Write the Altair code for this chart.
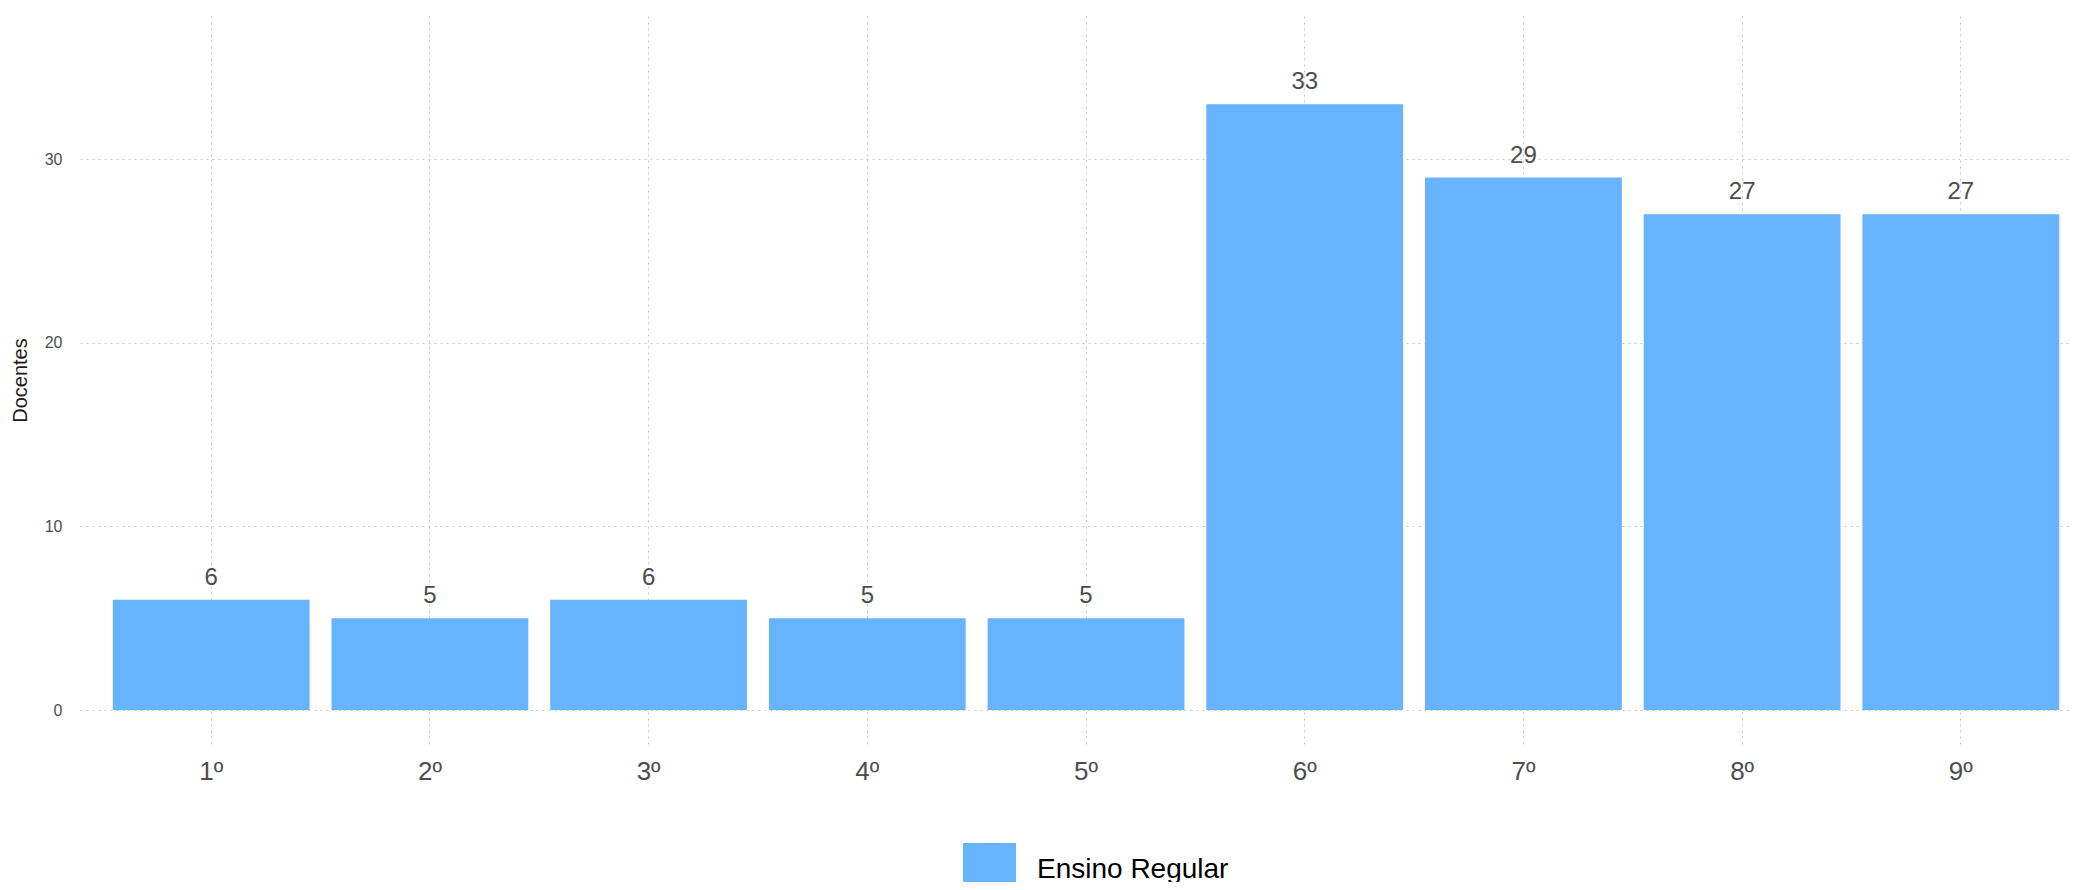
import altair as alt
import pandas as pd

anos = ["1º", "2º", "3º", "4º", "5º", "6º", "7º", "8º", "9º"]
docentes = [6, 5, 6, 5, 5, 33, 29, 27, 27]
serie = "Ensino Regular"
y_ticks = [0, 10, 20, 30]

df = pd.DataFrame({"ano": anos, "docentes": docentes, "tipo": [serie] * len(anos)})

FONT = "Liberation Sans"
GREY = "#4d4d4d"

x_enc = alt.X(
    "ano:N",
    sort=anos,
    scale=alt.Scale(paddingInner=0.1, paddingOuter=0.1042, align=0.72, round=False),
    axis=alt.Axis(
        title=None, ticks=False, domain=False, grid=True,
        gridColor="#c8c8c8", gridDash=[2, 4], gridWidth=1,
        labelFont=FONT, labelFontSize=26, labelColor=GREY, labelPadding=14,
        labelAngle=0,
    ),
)
y_scale = alt.Scale(domain=[-1.85, 37.8], nice=False, zero=False)

bars = alt.Chart(df).mark_bar(size=196.8).encode(
    x=x_enc,
    y=alt.Y(
        "docentes:Q",
        scale=y_scale,
        axis=alt.Axis(
            title="Docentes", values=y_ticks, ticks=False, domain=False, grid=True,
            gridColor="#c8c8c8", gridDash=[2, 4], gridWidth=1,
            labelFont=FONT, labelFontSize=16, labelColor=GREY, labelPadding=18,
            titleFont=FONT, titleFontSize=20, titleFontWeight="normal", titleColor="#1a1a1a",
            titleAngle=-90, titleX=-60, titleY=364, titleBaseline="middle", titleAlign="center",
        ),
    ),
    y2=alt.datum(0),
    color=alt.Color(
        "tipo:N",
        scale=alt.Scale(domain=[serie], range=["#66B3FF"]),
        legend=alt.Legend(
            title=None, orient="none", legendX=883, legendY=827, padding=0,
            symbolType="square", symbolSize=2809, symbolStrokeWidth=0, symbolOpacity=1,
            labelFont=FONT, labelFontSize=28, labelColor="#000000", labelOffset=21,
            labelLimit=400,
        ),
    ),
)

labels = alt.Chart(df).mark_text(
    font=FONT, fontSize=24, color=GREY, baseline="alphabetic", align="center", dy=-15,
).encode(
    x=alt.X("ano:N", sort=anos),
    y=alt.Y("docentes:Q", scale=y_scale),
    text=alt.Text("docentes:Q"),
)

chart = (
    alt.layer(bars, labels)
    .properties(
        width=1992,
        height=728,
        background="white",
        autosize=alt.AutoSizeParams(type="none"),
        padding={"left": 72, "top": 8, "right": 0, "bottom": 138},
    )
    .configure_view(stroke=None, strokeWidth=0)
)

chart.save("out.html", embed_options={"renderer": "svg", "actions": False})
